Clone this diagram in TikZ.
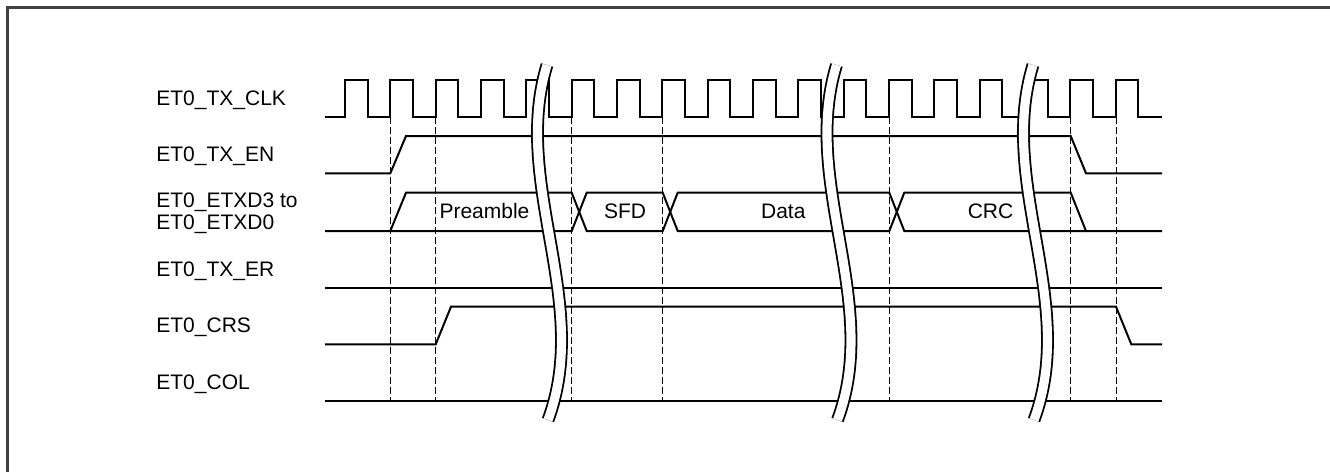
\documentclass[tikz,border=0pt]{standalone}
\usepackage{fontspec}
\setmainfont{Liberation Sans}
\definecolor{framegray}{HTML}{404040}

\begin{document}
\begin{tikzpicture}[x=0.5pt, y=-0.5pt,
  sig/.style={line width=1pt},
  guide/.style={line width=0.5pt, dash pattern=on 3.5pt off 1.5pt},
  brk/.style={line width=0.9pt, double=white, double distance=4.6pt},
  lbl/.style={anchor=base west, inner sep=0pt, align=left, font=\fontsize{10.5}{10.9}\selectfont},
  field/.style={anchor=base, inner sep=0pt, font=\fontsize{10.5}{10.9}\selectfont}]

\useasboundingbox (0,0) rectangle (1330,472);

% Frame
\draw[framegray, line width=1.1pt] (7.5,472) -- (7.5,7.5) -- (1330,7.5);

% Signal Names
\node[lbl] (nclk) at (156,105.5) {ET0\_TX\_CLK};
\node[lbl] (nen) at (156,161.7) {ET0\_TX\_EN};
\node[lbl] (ntxd) at (156,229) {ET0\_ETXD3 to\\ET0\_ETXD0};
\node[lbl] (ner) at (156,276.7) {ET0\_TX\_ER};
\node[lbl] (ncrs) at (156,332.8) {ET0\_CRS};
\node[lbl] (ncol) at (156,389.5) {ET0\_COL};

% Timing Guides
\foreach \gx in {390.3, 435.7, 571.7, 662.7, 889.3, 1070.7, 1116}
  \draw[guide] (\gx,117) -- (\gx,401);

% Clock
\draw[sig] (325,117) foreach \k in {0,...,17} {
  -- ({345+45.33*\k},117) -- ({345+45.33*\k},80)
  -- ({367.67+45.33*\k},80) -- ({367.67+45.33*\k},117)} -- (1162,117);

% Transmit Enable
\draw[sig] (325,173.3) -- (390.3,173.3) -- (406,136) -- (1070.7,136) -- (1086,173.3) -- (1162,173.3);

% Data Bus
\draw[sig] (325,231) -- (571.7,231) -- (586.7,192.7) -- (662.7,192.7) -- (677.7,231)
  -- (889.3,231) -- (904.3,192.7) -- (1070.7,192.7) -- (1086,231) -- (1162,231);
\draw[sig] (390.3,231) -- (406,192.7) -- (571.7,192.7) -- (586.7,231) -- (662.7,231)
  -- (677.7,192.7) -- (889.3,192.7) -- (904.3,231) -- (1086,231);
\node[field] (fpre) at (484.5,218.7) {Preamble};
\node[field] (fsfd) at (625,218.7) {SFD};
\node[field] (fdata) at (783.3,218.7) {Data};
\node[field] (fcrc) at (990.5,218.7) {CRC};

% Error / Carrier / Collision
\draw[sig] (325,288) -- (1162,288);
\draw[sig] (325,344.3) -- (435.7,344.3) -- (451,306.7) -- (1116,306.7) -- (1131.3,344.3) -- (1162,344.3);
\draw[sig] (325,401) -- (1162,401);

% Time Breaks
\foreach \bx in {547, 836.5, 1033}
  \draw[brk] (\bx,65) .. controls ({\bx-36},183) and ({\bx+45},302) .. ({\bx+1},420);

\end{tikzpicture}
\end{document}
